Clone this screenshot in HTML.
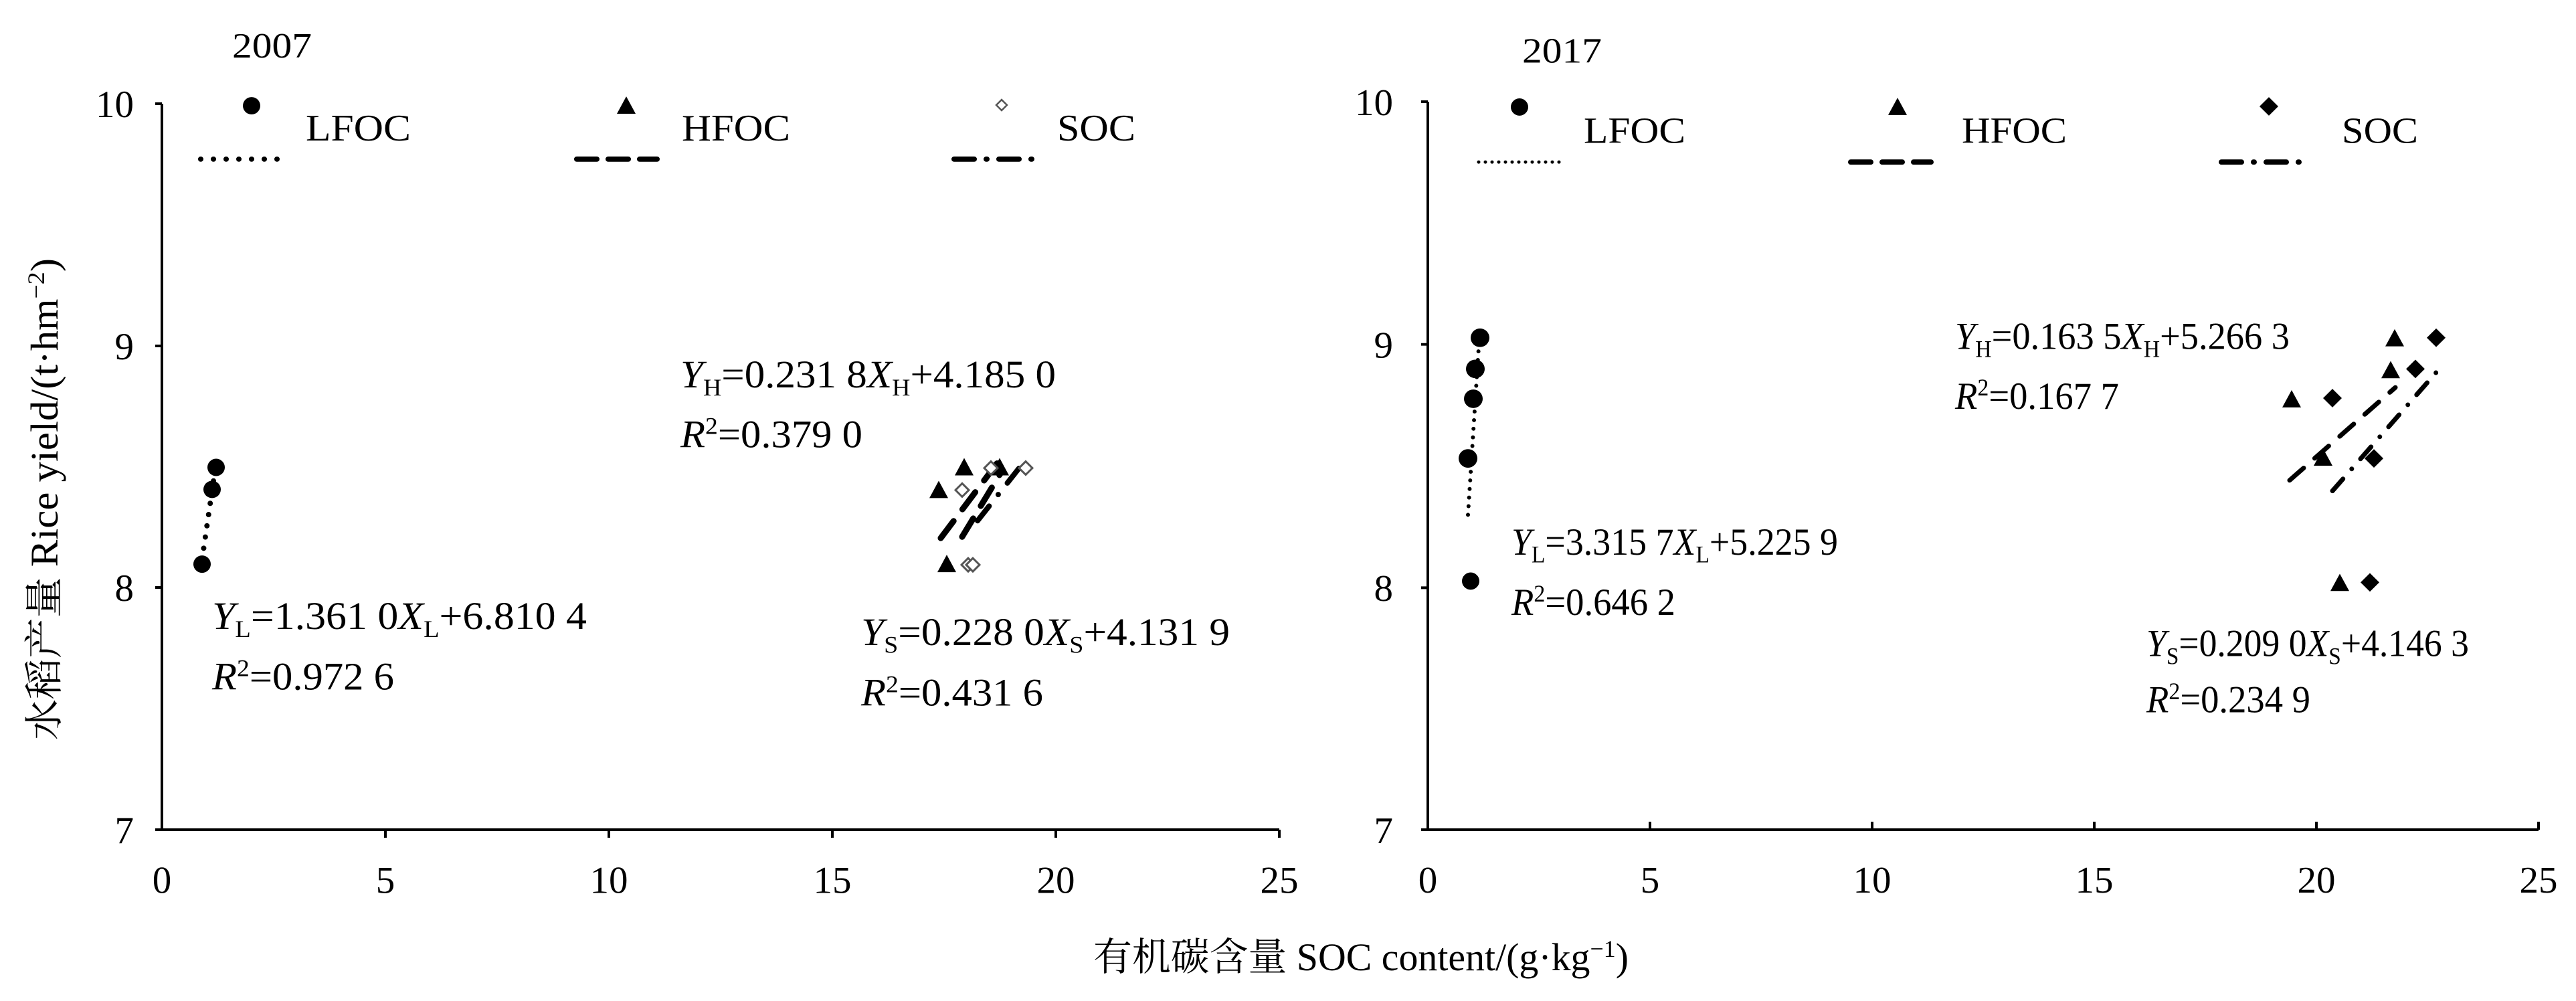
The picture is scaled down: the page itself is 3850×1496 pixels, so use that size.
<!DOCTYPE html>
<html><head><meta charset="utf-8"><style>
html,body{margin:0;padding:0;background:#fff;}
svg{display:block;}
text{font-family:"Liberation Serif","Noto Serif CJK SC",serif;fill:#000;}
</style></head><body>
<svg width="3850" height="1496" viewBox="0 0 3850 1496" xmlns="http://www.w3.org/2000/svg">
<defs>
<path id="tri" d="M0,-15 L14,11 L-14,11 Z"/>
<path id="dia" d="M0,-14 L14,0 L0,14 L-14,0 Z"/>
</defs>
<!-- LEFT PANEL -->
<g transform="translate(0,-6.5) scale(1,0.9972)">
<g stroke="#000" stroke-width="4" fill="none">
<path d="M242,162 V1250 H1912"/>
<path d="M232,162 H242 M232,525 H242 M232,887 H242 M232,1250 H242"/>
<path d="M576,1250 V1262 M910,1250 V1262 M1244,1250 V1262 M1578,1250 V1262 M1912,1250 V1262"/>
</g>
<g font-size="57" text-anchor="end">
<text x="200" y="182">10</text><text x="200" y="545">9</text><text x="200" y="907">8</text><text x="200" y="1270">7</text>
</g>
<g font-size="57" text-anchor="middle">
<text x="242" y="1345">0</text><text x="576" y="1345">5</text><text x="910" y="1345">10</text><text x="1244" y="1345">15</text><text x="1578" y="1345">20</text><text x="1912" y="1345">25</text>
</g>
<text x="347" y="93" font-size="53" textLength="119" lengthAdjust="spacingAndGlyphs">2007</text>
<circle cx="376" cy="165" r="13"/>
<text x="457" y="217" font-size="56" textLength="157" lengthAdjust="spacingAndGlyphs">LFOC</text>
<line x1="300" y1="245" x2="430" y2="245" stroke="#000" stroke-width="8" stroke-dasharray="0 19" stroke-linecap="round"/>
<use href="#tri" x="936" y="166"/>
<text x="1019" y="217" font-size="56" textLength="162" lengthAdjust="spacingAndGlyphs">HFOC</text>
<line x1="862" y1="245" x2="982" y2="245" stroke="#000" stroke-width="8" stroke-dasharray="30 17" stroke-linecap="round"/>
<path d="M1497,156 L1505,164 L1497,172 L1489,164 Z" fill="none" stroke="#555" stroke-width="2.5"/>
<text x="1580" y="217" font-size="56" textLength="117" lengthAdjust="spacingAndGlyphs">SOC</text>
<line x1="1426" y1="245" x2="1553" y2="245" stroke="#000" stroke-width="8" stroke-dasharray="30 18 1 18" stroke-linecap="round"/>
<line x1="302" y1="845" x2="323" y2="700" stroke="#000" stroke-width="8" stroke-dasharray="0 17" stroke-linecap="round"/>
<circle cx="302" cy="852" r="13"/><circle cx="317" cy="740" r="13"/><circle cx="323" cy="707" r="13"/>
<line x1="1406" y1="813" x2="1496" y2="693" stroke="#000" stroke-width="9" stroke-dasharray="32 22" stroke-linecap="round"/>
<line x1="1438" y1="811" x2="1497" y2="713" stroke="#000" stroke-width="9" stroke-dasharray="32 22" stroke-linecap="round"/>
<line x1="1461" y1="787" x2="1535" y2="693" stroke="#000" stroke-width="8" stroke-dasharray="28 22 0 22" stroke-linecap="round"/>
<use href="#tri" x="1403" y="742"/><use href="#tri" x="1441" y="708"/><use href="#tri" x="1415" y="853"/><use href="#tri" x="1494" y="708"/>
<g fill="#fff" stroke="#555" stroke-width="3">
<path d="M1438,731 L1448,741 L1438,751 L1428,741 Z"/><path d="M1481,698 L1491,708 L1481,718 L1471,708 Z"/>
<path d="M1447,843 L1457,853 L1447,863 L1437,853 Z"/><path d="M1454,843 L1464,853 L1454,863 L1444,853 Z"/>
<path d="M1533,698 L1543,708 L1533,718 L1523,708 Z"/>
</g>
<g font-size="58">
<text x="1017" y="587" textLength="561" lengthAdjust="spacingAndGlyphs"><tspan font-style="italic">Y</tspan><tspan font-size="36" dy="12">H</tspan><tspan dy="-12">=0.231 8</tspan><tspan font-style="italic">X</tspan><tspan font-size="36" dy="12">H</tspan><tspan dy="-12">+4.185 0</tspan></text>
<text x="1017" y="677" textLength="272" lengthAdjust="spacingAndGlyphs"><tspan font-style="italic">R</tspan><tspan font-size="36" dy="-20">2</tspan><tspan dy="20">=0.379 0</tspan></text>
<text x="317" y="949" textLength="560" lengthAdjust="spacingAndGlyphs"><tspan font-style="italic">Y</tspan><tspan font-size="36" dy="12">L</tspan><tspan dy="-12">=1.361 0</tspan><tspan font-style="italic">X</tspan><tspan font-size="36" dy="12">L</tspan><tspan dy="-12">+6.810 4</tspan></text>
<text x="317" y="1040" textLength="272" lengthAdjust="spacingAndGlyphs"><tspan font-style="italic">R</tspan><tspan font-size="36" dy="-20">2</tspan><tspan dy="20">=0.972 6</tspan></text>
<text x="1287" y="973" textLength="551" lengthAdjust="spacingAndGlyphs"><tspan font-style="italic">Y</tspan><tspan font-size="36" dy="12">S</tspan><tspan dy="-12">=0.228 0</tspan><tspan font-style="italic">X</tspan><tspan font-size="36" dy="12">S</tspan><tspan dy="-12">+4.131 9</tspan></text>
<text x="1287" y="1064" textLength="272" lengthAdjust="spacingAndGlyphs"><tspan font-style="italic">R</tspan><tspan font-size="36" dy="-20">2</tspan><tspan dy="20">=0.431 6</tspan></text>
</g>
</g>
<!-- RIGHT PANEL -->
<g transform="translate(0,1.4) scale(1,0.9909)">
<g stroke="#000" stroke-width="4" fill="none">
<path d="M2134,152 V1250 H3794"/>
<path d="M2124,152 H2134 M2124,518 H2134 M2124,885 H2134 M2124,1250 H2134"/>
<path d="M2466,1250 V1238 M2798,1250 V1238 M3130,1250 V1238 M3462,1250 V1238 M3794,1250 V1238"/>
</g>
<g font-size="57" text-anchor="end">
<text x="2082" y="172">10</text><text x="2082" y="538">9</text><text x="2082" y="905">8</text><text x="2082" y="1270">7</text>
</g>
<g font-size="57" text-anchor="middle">
<text x="2134" y="1345">0</text><text x="2466" y="1345">5</text><text x="2798" y="1345">10</text><text x="3130" y="1345">15</text><text x="3462" y="1345">20</text><text x="3794" y="1345">25</text>
</g>
<text x="2275" y="93" font-size="53" textLength="119" lengthAdjust="spacingAndGlyphs">2017</text>
<circle cx="2271" cy="160" r="13"/>
<text x="2367" y="214" font-size="56" textLength="152" lengthAdjust="spacingAndGlyphs">LFOC</text>
<line x1="2210" y1="243" x2="2339" y2="243" stroke="#000" stroke-width="5" stroke-dasharray="0 10" stroke-linecap="round"/>
<use href="#tri" x="2836" y="161"/>
<text x="2932" y="214" font-size="56" textLength="157" lengthAdjust="spacingAndGlyphs">HFOC</text>
<line x1="2766" y1="243" x2="2886" y2="243" stroke="#000" stroke-width="8" stroke-dasharray="30 17" stroke-linecap="round"/>
<use href="#dia" x="3391" y="159"/>
<text x="3500" y="214" font-size="56" textLength="114" lengthAdjust="spacingAndGlyphs">SOC</text>
<line x1="3320" y1="243" x2="3447" y2="243" stroke="#000" stroke-width="8" stroke-dasharray="30 18 1 18" stroke-linecap="round"/>
<line x1="2194" y1="775" x2="2212" y2="491" stroke="#000" stroke-width="6" stroke-dasharray="0 13" stroke-linecap="round"/>
<circle cx="2212" cy="508" r="14"/><circle cx="2205" cy="555" r="14"/><circle cx="2202" cy="600" r="14"/><circle cx="2194" cy="690" r="14"/><circle cx="2198" cy="875" r="13"/>
<line x1="3422" y1="723" x2="3580" y2="583" stroke="#000" stroke-width="7" stroke-dasharray="28 22" stroke-linecap="round"/>
<line x1="3486" y1="739" x2="3643" y2="558" stroke="#000" stroke-width="7" stroke-dasharray="24 20 0 20" stroke-linecap="round"/>
<use href="#tri" x="3579" y="510"/><use href="#tri" x="3573" y="558"/><use href="#tri" x="3425" y="602"/><use href="#tri" x="3472" y="690"/><use href="#tri" x="3497" y="879"/>
<use href="#dia" x="3641" y="508"/><use href="#dia" x="3610" y="555"/><use href="#dia" x="3486" y="599"/><use href="#dia" x="3548" y="690"/><use href="#dia" x="3542" y="877"/>
<g font-size="58">
<text x="2922" y="525" textLength="500" lengthAdjust="spacingAndGlyphs"><tspan font-style="italic">Y</tspan><tspan font-size="36" dy="12">H</tspan><tspan dy="-12">=0.163 5</tspan><tspan font-style="italic">X</tspan><tspan font-size="36" dy="12">H</tspan><tspan dy="-12">+5.266 3</tspan></text>
<text x="2922" y="615" textLength="245" lengthAdjust="spacingAndGlyphs"><tspan font-style="italic">R</tspan><tspan font-size="36" dy="-20">2</tspan><tspan dy="20">=0.167 7</tspan></text>
<text x="2259" y="835" textLength="488" lengthAdjust="spacingAndGlyphs"><tspan font-style="italic">Y</tspan><tspan font-size="36" dy="12">L</tspan><tspan dy="-12">=3.315 7</tspan><tspan font-style="italic">X</tspan><tspan font-size="36" dy="12">L</tspan><tspan dy="-12">+5.225 9</tspan></text>
<text x="2259" y="926" textLength="245" lengthAdjust="spacingAndGlyphs"><tspan font-style="italic">R</tspan><tspan font-size="36" dy="-20">2</tspan><tspan dy="20">=0.646 2</tspan></text>
<text x="3208" y="988" textLength="482" lengthAdjust="spacingAndGlyphs"><tspan font-style="italic">Y</tspan><tspan font-size="36" dy="12">S</tspan><tspan dy="-12">=0.209 0</tspan><tspan font-style="italic">X</tspan><tspan font-size="36" dy="12">S</tspan><tspan dy="-12">+4.146 3</tspan></text>
<text x="3208" y="1073" textLength="245" lengthAdjust="spacingAndGlyphs"><tspan font-style="italic">R</tspan><tspan font-size="36" dy="-20">2</tspan><tspan dy="20">=0.234 9</tspan></text>
</g>
</g>
<!-- axis titles -->
<text transform="translate(86,746) rotate(-90)" text-anchor="middle" font-size="58" textLength="720" lengthAdjust="spacingAndGlyphs">水稻产量 Rice yield/(t·hm<tspan font-size="36" dy="-20">−2</tspan><tspan dy="20">)</tspan></text>
<text x="2034" y="1450" text-anchor="middle" font-size="58" textLength="800" lengthAdjust="spacingAndGlyphs">有机碳含量 SOC content/(g·kg<tspan font-size="36" dy="-20">−1</tspan><tspan dy="20">)</tspan></text>
</svg>
</body></html>
